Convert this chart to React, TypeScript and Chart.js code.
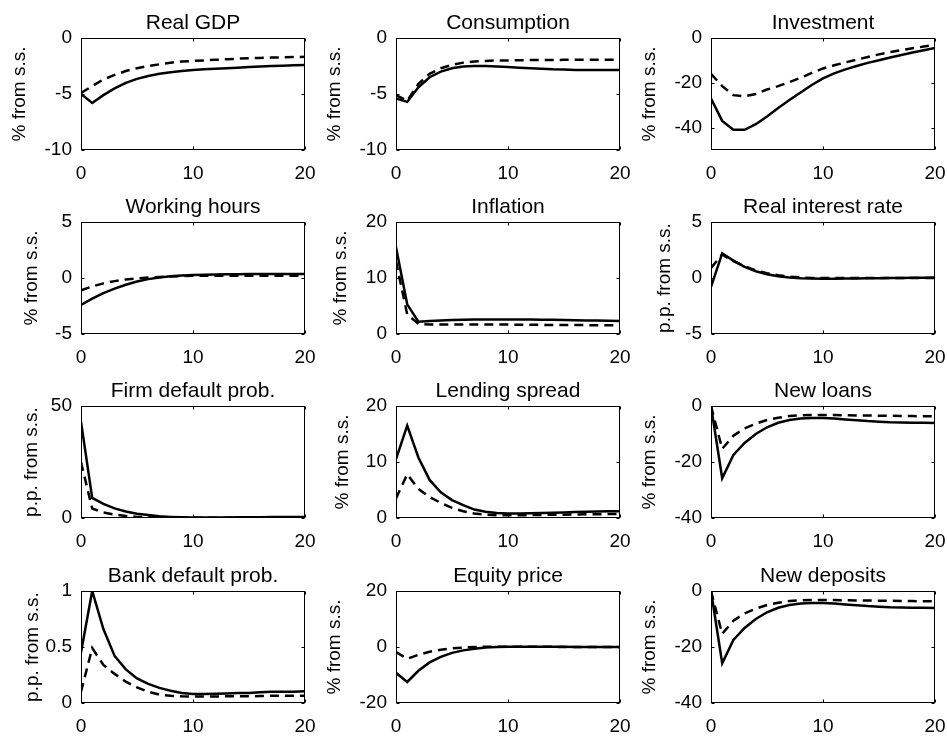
import React, { useEffect, useRef } from "react";
import { Chart, registerables } from "chart.js";

Chart.register(...registerables);

// ---------- data ----------
const periods = [0, 1, 2, 3, 4, 5, 6, 7, 8, 9, 10, 11, 12, 13, 14, 15, 16, 17, 18, 19, 20];
const xTickValues = [0, 10, 20];

const realGdpSolid = [-5.0, -5.8, -5.1, -4.5, -4.0, -3.65, -3.4, -3.2, -3.05, -2.95, -2.85, -2.8, -2.75, -2.7, -2.65, -2.6, -2.55, -2.5, -2.47, -2.43, -2.4];
const realGdpDashed = [-4.9, -4.3, -3.7, -3.3, -2.95, -2.7, -2.5, -2.35, -2.2, -2.1, -2.05, -2.0, -1.95, -1.9, -1.85, -1.8, -1.78, -1.75, -1.72, -1.7, -1.68];

const consumptionSolid = [-5.4, -5.7, -4.4, -3.5, -3.0, -2.7, -2.55, -2.5, -2.5, -2.55, -2.6, -2.65, -2.7, -2.75, -2.8, -2.82, -2.85, -2.85, -2.85, -2.85, -2.85];
const consumptionDashed = [-5.1, -5.6, -4.1, -3.2, -2.7, -2.4, -2.2, -2.1, -2.05, -2.0, -2.0, -1.98, -1.97, -1.96, -1.96, -1.95, -1.95, -1.95, -1.95, -1.95, -1.95];

const investmentSolid = [-27, -37, -41, -41, -38.5, -35, -31.3, -27.7, -24.3, -21.0, -18.0, -15.8, -14.0, -12.5, -11.1, -9.9, -8.7, -7.6, -6.5, -5.5, -4.5];
const investmentDashed = [-16, -21.5, -25.5, -26, -25, -23, -21.5, -19.7, -17.8, -15.6, -13.6, -12.2, -10.9, -9.7, -8.5, -7.3, -6.3, -5.4, -4.6, -3.8, -3.0];

const workingHoursSolid = [-2.4, -1.85, -1.35, -0.95, -0.6, -0.32, -0.1, 0.05, 0.15, 0.22, 0.27, 0.3, 0.32, 0.33, 0.34, 0.35, 0.35, 0.35, 0.35, 0.35, 0.35];
const workingHoursDashed = [-1.1, -0.75, -0.48, -0.28, -0.13, -0.03, 0.05, 0.1, 0.14, 0.17, 0.19, 0.2, 0.2, 0.2, 0.2, 0.2, 0.2, 0.2, 0.2, 0.2, 0.2];

const inflationSolid = [15.5, 5.3, 2.2, 2.3, 2.4, 2.5, 2.55, 2.6, 2.6, 2.6, 2.6, 2.6, 2.58, 2.56, 2.54, 2.5, 2.47, 2.43, 2.4, 2.35, 2.3];
const inflationDashed = [13, 3.5, 1.8, 1.7, 1.7, 1.7, 1.7, 1.7, 1.7, 1.7, 1.68, 1.66, 1.65, 1.63, 1.62, 1.6, 1.6, 1.58, 1.57, 1.56, 1.55];

const realRateSolid = [-0.8, 2.2, 1.55, 1.0, 0.6, 0.33, 0.15, 0.04, -0.02, -0.05, -0.06, -0.06, -0.05, -0.04, -0.03, -0.02, 0, 0.01, 0.02, 0.03, 0.04];
const realRateDashed = [0.9, 2.1, 1.5, 1.05, 0.68, 0.42, 0.24, 0.12, 0.05, 0.01, 0, 0, 0, 0, 0, 0, 0, 0, 0, 0, 0];

const firmDefaultSolid = [43, 9, 6.3, 4.3, 2.9, 1.9, 1.3, 0.8, 0.5, 0.3, 0.2, 0.2, 0.2, 0.25, 0.3, 0.3, 0.35, 0.4, 0.4, 0.45, 0.5];
const firmDefaultDashed = [25, 4.2, 2.5, 1.5, 0.9, 0.5, 0.3, 0.2, 0.1, 0.1, 0.1, 0.1, 0.1, 0.1, 0.15, 0.15, 0.15, 0.2, 0.2, 0.2, 0.2];

const lendingSpreadSolid = [10.5, 16.5, 10.8, 6.8, 4.6, 3.2, 2.3, 1.5, 1.1, 0.9, 0.8, 0.8, 0.85, 0.9, 0.95, 1.0, 1.05, 1.1, 1.15, 1.2, 1.2];
const lendingSpreadDashed = [3.5, 7.8, 5.2, 3.75, 2.7, 1.8, 1.2, 0.8, 0.6, 0.5, 0.5, 0.5, 0.52, 0.55, 0.57, 0.6, 0.62, 0.65, 0.67, 0.7, 0.7];

const newLoansSolid = [0, -25.8, -17.5, -13.2, -10, -7.6, -6.0, -5.0, -4.5, -4.3, -4.3, -4.5, -4.8, -5.1, -5.4, -5.6, -5.8, -5.9, -6.0, -6.0, -6.1];
const newLoansDashed = [0, -15.3, -10.6, -8.0, -6.3, -5.0, -4.2, -3.6, -3.3, -3.2, -3.2, -3.25, -3.3, -3.35, -3.4, -3.45, -3.5, -3.55, -3.6, -3.65, -3.7];

const bankDefaultSolid = [0.45, 1.0, 0.66, 0.42, 0.3, 0.22, 0.17, 0.135, 0.11, 0.09, 0.08, 0.08, 0.082, 0.085, 0.09, 0.09, 0.095, 0.1, 0.1, 0.1, 0.105];
const bankDefaultDashed = [0.1, 0.49, 0.34, 0.26, 0.19, 0.14, 0.1, 0.075, 0.065, 0.06, 0.058, 0.058, 0.058, 0.06, 0.06, 0.06, 0.062, 0.064, 0.065, 0.065, 0.065];

const equitySolid = [-9.2, -12.5, -8.5, -5.5, -3.5, -2.1, -1.2, -0.6, -0.2, 0, 0.1, 0.1, 0.1, 0.1, 0.05, 0.05, 0, 0, 0, 0, 0];
const equityDashed = [-1.8, -4.2, -2.8, -1.7, -1.0, -0.5, -0.2, 0, 0.1, 0.1, 0.1, 0.1, 0.1, 0.05, 0.05, 0, 0, 0, 0, 0, 0];

const newDepositsSolid = [0, -25.8, -17.5, -13.2, -10, -7.6, -6.0, -5.0, -4.5, -4.3, -4.3, -4.5, -4.8, -5.1, -5.4, -5.6, -5.8, -5.9, -6.0, -6.0, -6.1];
const newDepositsDashed = [0, -15.3, -10.6, -8.0, -6.3, -5.0, -4.2, -3.6, -3.3, -3.2, -3.2, -3.25, -3.3, -3.35, -3.4, -3.45, -3.5, -3.55, -3.6, -3.65, -3.7];

const titles = [
  "Real GDP", "Consumption", "Investment",
  "Working hours", "Inflation", "Real interest rate",
  "Firm default prob.", "Lending spread", "New loans",
  "Bank default prob.", "Equity price", "New deposits",
];
const PCT = "% from s.s.";
const PP = "p.p. from s.s.";
const yLabels = [PCT, PCT, PCT, PCT, PCT, PP, PP, PCT, PCT, PP, PCT, PCT];
const yRanges = [
  [-10, 0], [-10, 0], [-50, 0],
  [-5, 5], [0, 20], [-5, 5],
  [0, 50], [0, 20], [-40, 0],
  [0, 1], [-20, 20], [-40, 0],
];
const yTickValues = [
  [-10, -5, 0], [-10, -5, 0], [-40, -20, 0],
  [-5, 0, 5], [0, 10, 20], [-5, 0, 5],
  [0, 50], [0, 10, 20], [-40, -20, 0],
  [0, 0.5, 1], [-20, 0, 20], [-40, -20, 0],
];
const solidSeries = [
  realGdpSolid, consumptionSolid, investmentSolid,
  workingHoursSolid, inflationSolid, realRateSolid,
  firmDefaultSolid, lendingSpreadSolid, newLoansSolid,
  bankDefaultSolid, equitySolid, newDepositsSolid,
];
const dashedSeries = [
  realGdpDashed, consumptionDashed, investmentDashed,
  workingHoursDashed, inflationDashed, realRateDashed,
  firmDefaultDashed, lendingSpreadDashed, newLoansDashed,
  bankDefaultDashed, equityDashed, newDepositsDashed,
];

// ---------- layout (styles) ----------
const COL_LEFT = [81, 396, 711];
const ROW_TOP = [38, 222, 406, 591];
const PLOT_W = 224;
const PLOT_H = 112;
const Y_AXIS_W = 80;
const TOP_PAD = 38;
const RIGHT_PAD = 12;
const X_AXIS_H = 33;
const LABEL_OFFSET = [61, 61, 61, 49, 55, 46, 49, 53, 61, 48, 61, 61];
const FONT = '"Liberation Sans", Arial, Helvetica, sans-serif';

function Panel({ idx }: { idx: number }) {
  const ref = useRef<HTMLCanvasElement | null>(null);
  const r = Math.floor(idx / 3);
  const c = idx % 3;
  const W = Y_AXIS_W + PLOT_W + RIGHT_PAD;
  const H = TOP_PAD + PLOT_H + X_AXIS_H;

  useEffect(() => {
    if (!ref.current) return;
    const [ymin, ymax] = yRanges[idx];
    const yt = yTickValues[idx];
    const framePlugin = {
      id: "frame" + idx,
      afterDatasetsDraw(chart: any) {
        const { ctx, chartArea: a, scales } = chart;
        ctx.save();
        ctx.strokeStyle = "#000";
        ctx.lineWidth = 1;
        const l = Math.round(a.left) + 0.5;
        const t = Math.round(a.top) + 0.5;
        const rr = Math.round(a.right) - 0.5;
        const b = Math.round(a.bottom) - 0.5;
        ctx.strokeRect(l, t, rr - l, b - t);
        const L = 3;
        ctx.beginPath();
        for (const v of xTickValues) {
          const px = Math.round(scales.x.getPixelForValue(v)) + 0.5;
          ctx.moveTo(px, b);
          ctx.lineTo(px, b - L);
          ctx.moveTo(px, t);
          ctx.lineTo(px, t + L);
        }
        for (const v of yt) {
          const py = Math.round(scales.y.getPixelForValue(v)) + 0.5;
          ctx.moveTo(l, py);
          ctx.lineTo(l + L, py);
          ctx.moveTo(rr, py);
          ctx.lineTo(rr - L, py);
        }
        ctx.stroke();
        ctx.fillStyle = "#000";
        ctx.font = "21px " + FONT;
        ctx.textAlign = "center";
        ctx.textBaseline = "alphabetic";
        ctx.fillText(titles[idx], (a.left + a.right) / 2, a.top - 9);
        ctx.translate(a.left - LABEL_OFFSET[idx], (a.top + a.bottom) / 2);
        ctx.rotate(-Math.PI / 2);
        ctx.font = "19px " + FONT;
        ctx.textBaseline = "middle";
        ctx.fillText(yLabels[idx], 0, 0);
        ctx.restore();
      },
    };
    const chart = new Chart(ref.current, {
      type: "line",
      data: {
        datasets: [
          {
            data: periods.map((x, i) => ({ x, y: solidSeries[idx][i] })),
            borderColor: "#000",
            borderWidth: 2.5,
            pointRadius: 0,
            tension: 0,
            fill: false,
          },
          {
            data: periods.map((x, i) => ({ x, y: dashedSeries[idx][i] })),
            borderColor: "#000",
            borderWidth: 2.5,
            borderDash: [9, 6],
            pointRadius: 0,
            tension: 0,
            fill: false,
          },
        ],
      },
      options: {
        responsive: false,
        animation: false,
        devicePixelRatio: 1,
        layout: { padding: { top: TOP_PAD, right: RIGHT_PAD, bottom: 0, left: 0 } },
        plugins: {
          legend: { display: false },
          tooltip: { enabled: false },
          title: { display: false },
        },
        scales: {
          x: {
            type: "linear",
            min: 0,
            max: 20,
            grid: { display: false, drawTicks: false },
            border: { display: false },
            ticks: {
              color: "#000",
              font: { family: FONT, size: 19 },
              padding: 12,
              autoSkip: false,
              maxRotation: 0,
              callback: (v: any) => String(v),
            },
            afterBuildTicks: (s: any) => {
              s.ticks = xTickValues.map((v) => ({ value: v }));
            },
            afterFit: (s: any) => {
              s.height = X_AXIS_H;
              s.paddingLeft = 0;
              s.paddingRight = 0;
            },
          },
          y: {
            type: "linear",
            min: ymin,
            max: ymax,
            grid: { display: false, drawTicks: false },
            border: { display: false },
            ticks: {
              color: "#000",
              font: { family: FONT, size: 19 },
              padding: 9,
              autoSkip: false,
              callback: (v: any) => String(v),
            },
            afterBuildTicks: (s: any) => {
              s.ticks = yt.map((v) => ({ value: v }));
            },
            afterFit: (s: any) => {
              s.width = Y_AXIS_W;
              s.paddingTop = 0;
              s.paddingBottom = 0;
            },
          },
        },
      } as any,
      plugins: [framePlugin],
    });
    return () => chart.destroy();
  }, [idx]);

  return (
    <canvas
      ref={ref}
      width={W}
      height={H}
      style={{
        position: "absolute",
        left: COL_LEFT[c] - Y_AXIS_W,
        top: ROW_TOP[r] - TOP_PAD,
        width: W,
        height: H,
      }}
    />
  );
}

export default function App() {
  return (
    <div
      style={{
        position: "absolute",
        left: 0,
        top: 0,
        width: 947,
        height: 736,
        overflow: "hidden",
        background: "#fff",
      }}
    >
      {titles.map((_, i) => (
        <Panel key={i} idx={i} />
      ))}
    </div>
  );
}
